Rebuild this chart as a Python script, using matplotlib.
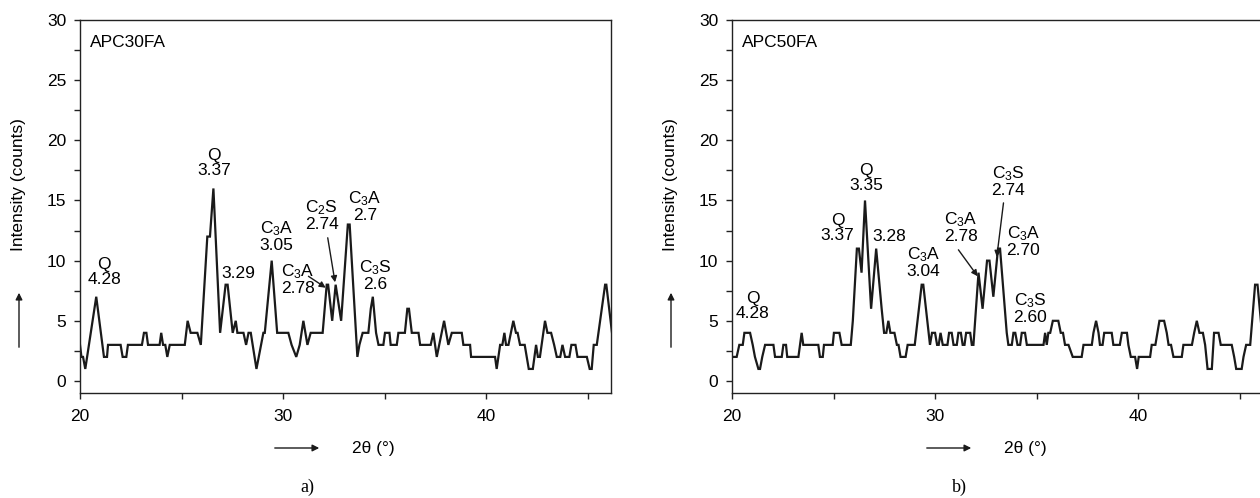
import matplotlib
matplotlib.use('Agg')
import matplotlib.pyplot as plt
from matplotlib.ticker import MultipleLocator

plt.rcParams['font.family'] = 'Liberation Sans'
plt.rcParams['mathtext.fontset'] = 'custom'
plt.rcParams['mathtext.rm'] = 'Liberation Sans'
plt.rcParams['mathtext.it'] = 'Liberation Sans:italic'
plt.rcParams['font.size'] = 12.5

# a) APC30FA - 2theta (graus) e contagens
theta_a = [20.0, 20.07, 20.15, 20.26, 20.8, 21.18, 21.33, 21.38, 22.0, 22.1, 22.28, 22.36,
           23.05, 23.15, 23.27, 23.35, 23.92, 24.0, 24.09, 24.2, 24.3, 24.42, 25.16, 25.3,
           25.45, 25.78, 25.95, 26.27, 26.4, 26.57, 26.9, 27.17, 27.27, 27.52, 27.67, 27.75,
           28.05, 28.18, 28.3, 28.41, 28.69, 29.03, 29.1, 29.44, 29.71, 30.26, 30.42, 30.65,
           30.82, 31.0, 31.2, 31.36, 31.95, 32.15, 32.22, 32.42, 32.59, 32.86, 33.19, 33.28,
           33.66, 33.76, 33.92, 34.2, 34.32, 34.42, 34.58, 34.7, 34.94, 35.02, 35.24, 35.3,
           35.6, 35.68, 36.0, 36.12, 36.2, 36.34, 36.67, 36.75, 37.27, 37.4, 37.57, 37.93,
           38.14, 38.31, 38.8, 38.88, 39.21, 39.26, 40.44, 40.52, 40.69, 40.8, 40.9, 40.98,
           41.1, 41.34, 41.47, 41.55, 41.67, 41.9, 42.0, 42.1, 42.3, 42.46, 42.55, 42.65,
           42.9, 43.02, 43.2, 43.35, 43.48, 43.65, 43.76, 43.89, 44.1, 44.2, 44.4, 44.5,
           44.96, 45.1, 45.2, 45.3, 45.45, 45.86, 45.92, 46.2]
counts_a = [3, 2, 2, 1, 7, 2, 2, 3, 3, 2, 2, 3,
            3, 4, 4, 3, 3, 4, 3, 3, 2, 3, 3, 5,
            4, 4, 3, 12, 12, 16, 4, 8, 8, 4, 5, 4,
            4, 3, 4, 4, 1, 4, 4, 10, 4, 4, 3, 2,
            3, 5, 3, 4, 4, 8, 8, 5, 8, 5, 13, 13,
            2, 3, 4, 4, 6, 7, 4, 3, 3, 4, 4, 3,
            3, 4, 4, 6, 6, 4, 4, 3, 3, 4, 2, 5,
            3, 4, 4, 3, 3, 2, 2, 1, 3, 3, 4, 3,
            3, 5, 4, 4, 3, 3, 2, 1, 1, 3, 2, 2,
            5, 4, 4, 3, 2, 2, 3, 2, 2, 3, 3, 2,
            2, 1, 1, 3, 3, 8, 8, 4]

# b) APC50FA
theta_b = [20.0, 20.23, 20.36, 20.53, 20.61, 20.89, 21.02, 21.13, 21.3, 21.38, 21.49, 21.63,
           22.04, 22.12, 22.45, 22.53, 22.66, 22.72, 23.27, 23.43, 23.51, 24.25, 24.33, 24.47,
           24.53, 24.96, 25.02, 25.29, 25.4, 25.85, 25.95, 26.15, 26.25, 26.38, 26.55, 26.85,
           27.1, 27.37, 27.49, 27.6, 27.7, 27.8, 28.0, 28.12, 28.2, 28.3, 28.55, 28.65,
           29.0, 29.34, 29.42, 29.75, 29.85, 30.0, 30.1, 30.18, 30.27, 30.38, 30.61, 30.69,
           30.82, 30.91, 31.07, 31.15, 31.27, 31.36, 31.45, 31.53, 31.73, 31.81, 31.89, 32.14,
           32.34, 32.56, 32.68, 32.87, 33.1, 33.2, 33.53, 33.61, 33.78, 33.86, 33.95, 34.06,
           34.19, 34.27, 34.43, 34.52, 35.34, 35.42, 35.5, 35.58, 35.67, 35.8, 36.07, 36.19,
           36.3, 36.4, 36.57, 36.78, 37.22, 37.31, 37.72, 37.8, 37.93, 38.05, 38.12, 38.25,
           38.33, 38.7, 38.78, 39.1, 39.2, 39.45, 39.52, 39.64, 39.85, 39.95, 40.03, 40.59,
           40.67, 40.85, 40.95, 41.05, 41.28, 41.41, 41.5, 41.62, 41.74, 42.15, 42.23, 42.65,
           42.76, 42.89, 43.02, 43.19, 43.3, 43.42, 43.63, 43.74, 43.96, 44.07, 44.61, 44.73,
           44.83, 45.1, 45.19, 45.32, 45.52, 45.76, 45.88, 46.1, 46.2]
counts_b = [2, 2, 3, 3, 4, 4, 3, 2, 1, 1, 2, 3,
            3, 2, 2, 3, 3, 2, 2, 4, 3, 3, 2, 2,
            3, 3, 4, 4, 3, 3, 5, 11, 11, 9, 15, 6,
            11, 6, 4, 4, 5, 4, 4, 3, 3, 2, 2, 3,
            3, 8, 8, 3, 4, 4, 3, 3, 4, 3, 3, 4,
            4, 3, 3, 4, 4, 3, 3, 4, 4, 3, 3, 9,
            6, 10, 10, 7, 11, 11, 4, 3, 3, 4, 4, 3,
            3, 4, 4, 3, 3, 4, 3, 4, 4, 5, 5, 4,
            4, 3, 3, 2, 2, 3, 3, 4, 5, 4, 3, 3,
            4, 4, 3, 3, 4, 4, 3, 2, 2, 1, 2, 2,
            3, 3, 4, 5, 5, 4, 3, 3, 2, 2, 3, 3,
            4, 5, 4, 4, 3, 1, 1, 4, 4, 3, 3, 2,
            1, 1, 2, 3, 3, 8, 8, 4, 3]

# rotulos dos picos
labels_a = ["Q\n4.28", "Q\n3.37", "3.29", "C$_3$A\n3.05", "C$_3$A\n2.78",
            "C$_2$S\n2.74", "C$_3$A\n2.7", "C$_3$S\n2.6"]
lab_x_a = [21.2, 26.6, 27.8, 29.69, 30.73, 31.9, 34.04, 34.53]
lab_y_a = [9.05, 18.1, 8.9, 12.0, 8.45, 13.8, 14.5, 8.8]

labels_b = ["Q\n4.28", "Q\n3.37", "Q\n3.35", "3.28", "C$_3$A\n3.04", "C$_3$A\n2.78",
            "C$_3$S\n2.74", "C$_3$A\n2.70", "C$_3$S\n2.60"]
lab_x_b = [21.02, 25.2, 26.59, 27.75, 29.42, 31.27, 33.61, 34.35, 34.68]
lab_y_b = [6.2, 12.7, 16.85, 12.0, 9.85, 12.75, 16.6, 11.65, 6.05]

# setas (inicio -> ponta)
arrows_a = [((31.25, 8.7), (32.1, 7.75)), ((32.2, 11.9), (32.56, 8.2))]
arrows_b = [((31.15, 10.9), (32.1, 8.7)), ((33.37, 14.8), (33.04, 10.3))]

W, H = 1260, 498
fig = plt.figure(figsize=(W / 100, H / 100), dpi=100)


def box(x0, y0, x1, y1):
    return [x0 / W, 1 - y1 / H, (x1 - x0) / W, (y1 - y0) / H]


def fx(px):
    return px / W


def fy(py):
    return 1 - py / H


def painel(ax, th, ct, nome, labs, lx, ly, setas):
    ax.plot(th, ct, color='#1a1a1a', lw=1.6, solid_joinstyle='miter')
    ax.set_xlim(20, 46.15)
    ax.set_ylim(-1.0, 30)
    ax.xaxis.set_major_locator(MultipleLocator(10))
    ax.xaxis.set_minor_locator(MultipleLocator(5))
    ax.yaxis.set_major_locator(MultipleLocator(5))
    ax.yaxis.set_minor_locator(MultipleLocator(2.5))
    ax.tick_params(which='both', direction='out', length=4, width=1, color='#222222')
    ax.tick_params(axis='x', which='major', labelsize=12.5, pad=7.5)
    ax.tick_params(axis='y', which='major', labelsize=12.5, pad=6)
    for s in ax.spines.values():
        s.set_linewidth(1.0)
        s.set_color('#222222')
    ax.text(20.5, 28.1, nome, ha='left', va='center', fontsize=12.5)
    for t, x, y in zip(labs, lx, ly):
        ax.text(x, y, t, ha='center', va='center', fontsize=12.5, linespacing=1.0)
    for (x0, y0), (x1, y1) in setas:
        ax.annotate('', xy=(x1, y1), xytext=(x0, y0),
                    arrowprops=dict(arrowstyle='-|>', color='#1a1a1a', lw=1.0,
                                    mutation_scale=9, shrinkA=0, shrinkB=0))


axA = fig.add_axes(box(80, 20, 611, 393))
axB = fig.add_axes(box(732, 20, 1263, 393))
painel(axA, theta_a, counts_a, 'APC30FA', labels_a, lab_x_a, lab_y_a, arrows_a)
painel(axB, theta_b, counts_b, 'APC50FA', labels_b, lab_x_b, lab_y_b, arrows_b)

# rotulos dos eixos com setas
for dx, letra in [(0, 'a)'), (652, 'b)')]:
    fig.text(fx(19 + dx), fy(185), 'Intensity (counts)', rotation=90,
             ha='center', va='center', fontsize=12.5)
    fig.patches.append(matplotlib.patches.FancyArrowPatch(
        (fx(19 + dx), fy(350)), (fx(19 + dx), fy(290)), transform=fig.transFigure,
        arrowstyle='-|>', mutation_scale=10, lw=1.0, color='#1a1a1a'))
    fig.patches.append(matplotlib.patches.FancyArrowPatch(
        (fx(272 + dx), fy(448)), (fx(322 + dx), fy(448)), transform=fig.transFigure,
        arrowstyle='-|>', mutation_scale=10, lw=1.0, color='#1a1a1a'))
    fig.text(fx(373 + dx), fy(448), '2θ (°)', ha='center', va='center', fontsize=12.5)
    fig.text(fx(307 + dx), fy(487), letra, ha='center', va='center', fontsize=13,
             family='Liberation Serif')

fig.savefig('out.png', dpi=100)
